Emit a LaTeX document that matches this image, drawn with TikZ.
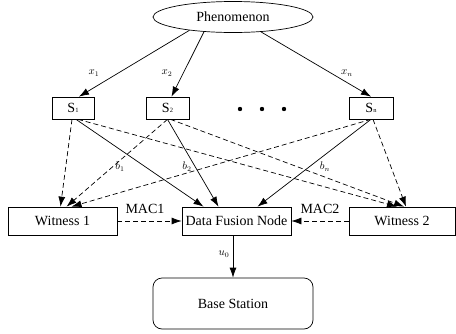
\documentclass[tikz,border=0pt]{standalone}
\usepackage{fontspec}
\setmainfont{Liberation Serif}
\usetikzlibrary{shapes.geometric,arrows.meta}
\newcommand{\tinysub}[1]{\raisebox{-0.3pt}{\fontsize{6.5}{7}\selectfont #1}}
\begin{document}
\begin{tikzpicture}[x=1pt,y=-1pt,
  every node/.style={font=\fontsize{14}{16}\selectfont},
  box/.style={draw, line width=0.7pt, inner sep=0pt},
  arr/.style={line width=0.7pt, -{Latex[length=10pt,width=7pt]}},
  dsh/.style={arr, dash pattern=on 5pt off 3pt},
  lab/.style={font=\fontsize{10.5}{12}\selectfont, inner sep=0pt}]
\useasboundingbox (0,0) rectangle (456,333);
% nodes
\node[box, ellipse, minimum width=160pt, minimum height=31pt] (ph) at (233,17) {Phenomenon};
\node[box, minimum width=42pt, minimum height=22pt] (s1) at (73,108) {S\tinysub{1}};
\node[box, minimum width=43pt, minimum height=22pt] (s2) at (167.5,108) {S\tinysub{2}};
\node[box, minimum width=44pt, minimum height=22pt] (sn) at (371,108) {S\tinysub{n}};
\node[box, minimum width=109pt, minimum height=28pt] (w1) at (62.5,221) {Witness 1};
\node[box, minimum width=109pt, minimum height=28pt] (dfn) at (236.5,221) {Data Fusion Node};
\node[box, minimum width=106pt, minimum height=28pt] (w2) at (402,221) {Witness 2};
\node[box, rounded corners=9pt, minimum width=160pt, minimum height=51pt] (bs) at (233,303.5) {Base Station};
% dots
\fill (240,109) circle (2.2pt);
\fill (262,109) circle (2.2pt);
\fill (284,109) circle (2.2pt);
% phenomenon to sensors
\draw[arr] (ph.197) -- ([xshift=6pt]s1.north);
\draw[arr] (ph.207.4) -- ([xshift=4pt]s2.north);
\draw[arr] (ph.332.6) -- (sn.north);
\node[lab] (lx1) at (94,73) {$x_1$};
\node[lab] (lx2) at (167,73) {$x_2$};
\node[lab] (lxn) at (347,73) {$x_n$};
% sensors to witnesses and fusion node
\draw[dsh] ([xshift=-1pt]s1.south) -- ([xshift=-2pt]w1.north);
\draw[arr] ([xshift=3pt]s1.south) -- ([xshift=-33pt]dfn.north);
\draw[dsh] ([xshift=5pt]s1.south) -- ([xshift=-5pt]w2.north);
\draw[dsh] (s2.south) -- ([xshift=4pt]w1.north);
\draw[arr] (s2.south) -- ([xshift=-18pt]dfn.north);
\draw[dsh] ([xshift=3pt]s2.south) -- ([xshift=2pt]w2.north);
\draw[dsh] (sn.south) -- ([xshift=9pt]w1.north);
\draw[arr] (sn.south) -- ([xshift=21pt]dfn.north);
\draw[dsh] ([xshift=2pt]sn.south) -- ([xshift=4pt]w2.north);
\node[lab] (lb1) at (120,167) {$b_1$};
\node[lab] (lb2) at (187,167) {$b_2$};
\node[lab] (lbn) at (325,167) {$b_n$};
% MACs
\draw[dsh] (w1.east) -- (dfn.west);
\draw[dsh] (w2.west) -- (dfn.east);
\node (mac1) at (145,209) {MAC1};
\node (mac2) at (320,209) {MAC2};
% to base station
\draw[arr] (bs.north |- dfn.south) -- (bs.north);
\node[lab] (lu0) at (224,254) {$u_0$};
\end{tikzpicture}
\end{document}
